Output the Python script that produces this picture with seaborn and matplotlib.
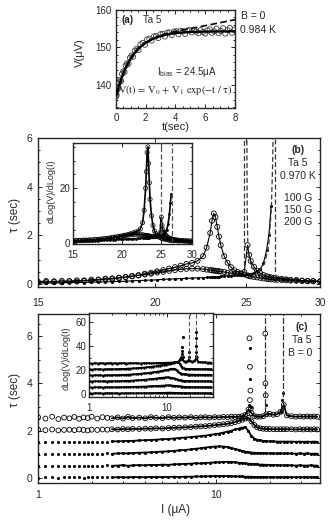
import numpy as np
import pandas as pd
import matplotlib
matplotlib.use("Agg")
import matplotlib.pyplot as plt
from matplotlib.ticker import FixedLocator, NullLocator, AutoMinorLocator, FormatStrFormatter, LogLocator, NullFormatter
import seaborn as sns

sns.set_style("ticks")
plt.rcParams["font.family"] = ["Liberation Sans", "DejaVu Sans"]
plt.rcParams["mathtext.fontset"] = "stix"

# ---------------- panel (a): V(t) relaxation ----------------
t_a = [0.00, 0.02, 0.05, 0.08, 0.12, 0.16, 0.22, 0.28, 0.35, 0.42, 0.50, 0.58, 0.66, 0.75, 0.85, 0.95,
       1.05, 1.15, 1.27, 1.40, 1.52, 1.65, 1.80, 1.95, 2.10, 2.25, 2.40, 2.55, 2.70, 2.85, 3.00, 3.15,
       3.30, 3.45, 3.60, 3.75, 3.90, 4.05, 4.20, 4.35, 4.50, 4.65, 4.80, 4.95, 5.10, 5.25, 5.40, 5.55,
       5.70, 5.85, 6.00, 6.15, 6.30, 6.45, 6.60, 6.75, 6.90, 7.05, 7.20, 7.35, 7.50, 7.65, 7.80, 7.95]
V_a = [136.8, 137.6, 137.2, 138.6, 139.4, 139.0, 140.6, 141.2, 141.0, 142.9, 143.6, 143.4, 145.1, 145.7, 145.6, 147.2,
       147.8, 147.5, 149.1, 149.6, 149.3, 150.8, 151.2, 150.7, 152.1, 152.3, 151.8, 152.9, 153.0, 152.5, 153.5, 153.6,
       152.9, 153.9, 154.0, 153.3, 154.2, 154.3, 153.5, 154.4, 154.3, 153.6, 154.5, 154.6, 154.0, 154.7, 154.2, 153.8,
       154.6, 154.1, 153.7, 154.5, 154.8, 153.9, 154.3, 155.0, 153.8, 154.4, 155.1, 153.7, 154.6, 155.2, 153.9, 154.7]
t_fit = [0, 0.25, 0.5, 0.75, 1.0, 1.25, 1.5, 1.75, 2.0, 2.5, 3.0, 3.5, 4.0, 4.5, 5.0, 6.0, 7.0, 8.0]
V_fit = [137.0, 140.3, 143.1, 145.3, 147.05, 148.45, 149.6, 150.5, 151.2, 152.3, 153.0, 153.5, 153.8, 154.0, 154.1, 154.2, 154.25, 154.3]
t_fit2 = [0, 0.5, 1.0, 1.5, 2.0, 2.5, 3.0, 3.6, 4.0, 5.0, 6.0, 7.0, 8.0]
V_fit2 = [137.0, 143.1, 147.05, 149.6, 151.2, 152.4, 153.2, 153.9, 154.3, 155.0, 155.8, 156.6, 157.4]

# ---------------- panel (b): tau vs I, B = 100/150/200 G ----------------
I_b = [15.0, 15.3, 15.6, 15.9, 16.2, 16.5, 16.8, 17.1, 17.4, 17.7, 18.0, 18.3, 18.6, 18.9, 19.2, 19.5,
       19.8, 20.1, 20.4, 20.7, 21.0, 21.3, 21.6, 21.9, 22.2, 22.5, 22.7, 22.9, 23.0, 23.1, 23.2, 23.3,
       23.4, 23.5, 23.7, 23.9, 24.1, 24.3, 24.5, 24.7, 24.9, 25.1, 25.2, 25.3, 25.5, 25.7, 25.9, 26.1,
       26.3, 26.45, 26.6, 26.8, 27.0, 27.3, 27.6, 27.9, 28.3, 28.7, 29.1, 29.5, 30.0]
tau_b1 = [0.10, 0.13, 0.09, 0.14, 0.12, 0.16, 0.13, 0.19, 0.17, 0.23, 0.21, 0.27, 0.29, 0.34, 0.37, 0.43,
          0.47, 0.53, 0.58, 0.64, 0.70, 0.76, 0.83, 0.87, 0.96, 1.15, 1.5, 2.1, 2.6, 2.9, 2.75, 2.35,
          1.95, 1.6, 1.15, 0.88, 0.70, 0.57, 0.50, 0.44, 0.40, 0.36, 0.34, 0.32, 0.30, 0.28, 0.26, 0.24,
          0.22, 0.21, 0.20, 0.19, 0.18, 0.17, 0.16, 0.15, 0.14, 0.13, 0.12, 0.12, 0.11]
tau_b2 = [0.07, 0.09, 0.12, 0.08, 0.13, 0.11, 0.16, 0.14, 0.19, 0.20, 0.24, 0.25, 0.30, 0.32, 0.36, 0.40,
          0.43, 0.48, 0.51, 0.55, 0.58, 0.61, 0.63, 0.64, 0.64, 0.62, 0.60, 0.58, 0.57, 0.56, 0.55, 0.54,
          0.53, 0.52, 0.50, 0.47, 0.45, 0.43, 0.42, 0.43, 0.50, 1.6, 1.2, 0.95, 0.72, 0.55, 0.45, 0.38,
          0.33, 0.30, 0.28, 0.26, 0.24, 0.22, 0.20, 0.18, 0.17, 0.15, 0.14, 0.13, 0.12]
tau_b3 = [0.05, 0.06, 0.04, 0.07, 0.06, 0.08, 0.07, 0.09, 0.08, 0.10, 0.10, 0.12, 0.12, 0.14, 0.15, 0.16,
          0.17, 0.18, 0.20, 0.21, 0.22, 0.23, 0.24, 0.25, 0.26, 0.27, 0.28, 0.29, 0.29, 0.30, 0.30, 0.31,
          0.31, 0.32, 0.33, 0.34, 0.35, 0.36, 0.37, 0.38, 0.39, 0.40, 0.41, 0.43, 0.47, 0.55, 0.62, 0.85,
          1.4, 2.0, 3.2, np.nan, 0.26, 0.23, 0.20, 0.18, 0.16, 0.14, 0.13, 0.12, 0.11]
# fitted divergences (dashed)
fit_b_I = [[24.90, 24.90], [25.06, 25.08, 25.12, 25.2, 25.35, 25.6, 26.0],
           [25.8, 26.2, 26.45, 26.62, 26.70, 26.73], [26.86, 26.86]]
fit_b_tau = [[0.45, 6.2], [6.2, 3.0, 1.6, 1.1, 0.75, 0.5, 0.35],
             [0.5, 0.9, 1.6, 3.2, 5.0, 6.2], [0.2, 6.2]]

# inset (b): dLog(V)/dLog(I)
d_b1 = [1.0, 1.1, 1.0, 1.2, 1.1, 1.3, 1.2, 1.4, 1.4, 1.6, 1.6, 1.8, 1.9, 2.1, 2.2, 2.4,
        2.6, 2.8, 3.0, 3.2, 3.5, 3.8, 4.1, 4.4, 5.2, 7.5, 12, 20, 26, 33, 35, 29,
        22, 16, 10, 6.5, 4.5, 3.5, 2.8, 2.4, 2.1, 1.9, 1.8, 1.7, 1.6, 1.5, 1.4, 1.3,
        1.2, 1.2, 1.1, 1.1, 1.0, 1.0, 0.9, 0.9, 0.9, 0.8, 0.8, 0.8, 0.8]
d_b2 = [0.9, 1.0, 1.1, 1.0, 1.2, 1.1, 1.3, 1.3, 1.5, 1.5, 1.7, 1.8, 2.0, 2.1, 2.3, 2.4,
        2.6, 2.7, 2.9, 3.0, 3.1, 3.2, 3.3, 3.3, 3.2, 3.1, 3.0, 2.9, 2.8, 2.8, 2.7, 2.7,
        2.6, 2.6, 2.5, 2.4, 2.4, 2.5, 2.7, 3.0, 3.8, 9.5, 6.5, 5.0, 4.0, 3.2, 2.6, 2.2,
        1.9, 1.7, 1.6, 1.5, 1.4, 1.3, 1.2, 1.1, 1.0, 1.0, 0.9, 0.9, 0.9]
d_b3 = [0.7, 0.8, 0.7, 0.8, 0.8, 0.9, 0.9, 1.0, 1.0, 1.1, 1.1, 1.2, 1.2, 1.3, 1.3, 1.4,
        1.4, 1.5, 1.5, 1.6, 1.6, 1.7, 1.7, 1.8, 1.8, 1.9, 1.9, 2.0, 2.0, 2.0, 2.1, 2.1,
        2.1, 2.2, 2.2, 2.3, 2.3, 2.4, 2.5, 2.6, 2.7, 2.9, 3.0, 3.2, 3.6, 4.2, 5.0, 7.0,
        10.5, 14.5, 18, np.nan, 1.6, 1.4, 1.3, 1.2, 1.1, 1.0, 1.0, 0.9, 0.9]
fit_bi_I = [[25.03, 25.03], [26.72, 26.72]]
fit_bi_d = [[3.5, 40], [0.0, 40]]

# ---------------- panel (c): tau vs I, B = 0, curves offset ----------------
I_c = [1.0, 1.1, 1.2, 1.3, 1.4, 1.5, 1.6, 1.7, 1.8, 1.9, 2.0,
       2.15, 2.3, 2.45, 2.6,
       2.8, 3.0, 3.2, 3.4,
       3.7, 4.0, 4.3, 4.6,
       5.0, 5.4, 5.8, 6.2,
       6.7, 7.2, 7.7, 8.2, 8.7, 9.2,
       9.8, 10.4, 11.0, 11.6, 12.2, 12.8, 13.4, 14.0, 14.6, 15.2, 15.8, 16.4, 17.0,
       17.7, 18.4, 19.2, 20.0,
       21.0, 22.0, 23.0, 24.0, 25.0,
       26.5, 28.0, 29.5, 31.0, 32.5, 34.0, 35.5, 37.0]
tau_c0 = [0.03, 0.05, 0.04, 0.03, 0.05, 0.04, 0.04, 0.06, 0.03, 0.05, 0.04,
          0.05, 0.04, 0.06, 0.04,
          0.05, 0.05, 0.04, 0.06,
          0.05, 0.05, 0.06, 0.05,
          0.06, 0.06, 0.07, 0.06,
          0.07, 0.07, 0.08, 0.08, 0.09, 0.09,
          0.10, 0.10, 0.10, 0.10, 0.09, 0.09, 0.08, 0.08, 0.07, 0.07, 0.07, 0.06, 0.06,
          0.06, 0.06, 0.05, 0.05,
          0.05, 0.05, 0.05, 0.05, 0.05,
          0.05, 0.05, 0.05, 0.05, 0.05, 0.05, 0.05, 0.05]
tau_c1 = [0.53, 0.52, 0.54, 0.52, 0.53, 0.51, 0.53, 0.54, 0.52, 0.53, 0.52,
          0.54, 0.53, 0.55, 0.53,
          0.54, 0.56, 0.53, 0.55,
          0.56, 0.55, 0.57, 0.56,
          0.58, 0.57, 0.59, 0.60,
          0.61, 0.62, 0.64, 0.63, 0.65, 0.66,
          0.67, 0.68, 0.69, 0.70, 0.69, 0.68, 0.66, 0.65, 0.63, 0.62, 0.61, 0.60, 0.59,
          0.58, 0.58, 0.57, 0.57,
          0.56, 0.56, 0.55, 0.55, 0.55,
          0.55, 0.54, 0.55, 0.54, 0.54, 0.55, 0.54, 0.54]
tau_c2 = [1.03, 1.02, 1.04, 1.02, 1.03, 1.02, 1.04, 1.03, 1.02, 1.04, 1.03,
          1.04, 1.03, 1.05, 1.04,
          1.05, 1.06, 1.05, 1.07,
          1.08, 1.09, 1.10, 1.11,
          1.13, 1.14, 1.16, 1.18,
          1.20, 1.22, 1.25, 1.27, 1.30, 1.32,
          1.34, 1.35, 1.34, 1.32, 1.28, 1.24, 1.20, 1.16, 1.13, 1.11, 1.09, 1.08, 1.07,
          1.07, 1.06, 1.06, 1.05,
          1.05, 1.05, 1.05, 1.05, 1.05,
          1.05, 1.04, 1.05, 1.04, 1.05, 1.04, 1.04, 1.04]
tau_c3 = [1.53, 1.52, 1.54, 1.52, 1.53, 1.53, 1.54, 1.52, 1.53, 1.54, 1.53,
          1.54, 1.55, 1.54, 1.56,
          1.56, 1.57, 1.58, 1.58,
          1.60, 1.61, 1.62, 1.63,
          1.65, 1.66, 1.68, 1.70,
          1.72, 1.74, 1.76, 1.78, 1.80, 1.83,
          1.86, 1.89, 1.93, 1.97, 2.01, 2.06, 2.10, 2.14, 2.15, 2.00, 1.78, 1.68, 1.63,
          1.60, 1.58, 1.57, 1.56,
          1.56, 1.55, 1.55, 1.55, 1.55,
          1.55, 1.54, 1.55, 1.54, 1.55, 1.54, 1.55, 1.54]
tau_c4 = [2.05, 2.03, 2.06, 2.02, 2.04, 2.05, 2.03, 2.06, 2.04, 2.02, 2.05,
          2.04, 2.06, 2.05, 2.07,
          2.06, 2.08, 2.07, 2.09,
          2.08, 2.10, 2.09, 2.11,
          2.10, 2.12, 2.13, 2.14,
          2.15, 2.16, 2.18, 2.19, 2.20, 2.22,
          2.24, 2.26, 2.28, 2.30, 2.33, 2.37, 2.42, 2.47, 2.52, 2.55, 2.40, 2.25, 2.15,
          2.11, 2.09, 2.08, 2.08,
          2.07, 2.07, 2.07, 2.07, 2.07,
          2.07, 2.06, 2.07, 2.06, 2.07, 2.06, 2.07, 2.06]
tau_c5 = [2.58, 2.52, 2.60, 2.50, 2.56, 2.53, 2.59, 2.51, 2.57, 2.54, 2.60,
          2.52, 2.58, 2.55, 2.53,
          2.57, 2.52, 2.59, 2.54,
          2.56, 2.53, 2.58, 2.55,
          2.54, 2.58, 2.55, 2.57,
          2.56, 2.58, 2.55, 2.57, 2.58, 2.56,
          2.58, 2.57, 2.59, 2.58, 2.60, 2.59, 2.60, 2.62, 2.68, 2.90, 2.75, 2.62, 2.60,
          2.60, 2.62, 2.70, 2.72,
          2.68, 2.70, 2.80, 3.10, 2.65,
          2.62, 2.60, 2.61, 2.60, 2.61, 2.60, 2.61, 2.60]
peak_c_open_I = [15.4, 15.5, 15.6, 15.5, 15.7, 18.9, 18.95, 19.0]
peak_c_open_tau = [5.9, 4.7, 3.7, 3.3, 2.95, 6.1, 4.0, 3.5]
peak_c_dot_I = [15.5, 15.6, 15.4, 15.8, 19.1, 23.2, 23.4, 23.6, 23.7]
peak_c_dot_tau = [5.5, 4.2, 3.1, 3.0, 3.1, 2.8, 3.0, 3.3, 3.6]
fit_c_I = [[18.9, 18.9], [23.8, 23.8]]
fit_c_tau = [[2.75, 7.2], [2.75, 7.2]]

# inset (c)
d_c0 = [0.6, 0.4, 0.7, 0.5, 0.6, 0.4, 0.5, 0.7, 0.5, 0.6, 0.5,
        0.5, 0.6, 0.4, 0.6,
        0.5, 0.6, 0.5, 0.7,
        0.6, 0.5, 0.7, 0.6,
        0.6, 0.7, 0.6, 0.7,
        0.7, 0.8, 0.8, 0.9, 0.9, 1.0,
        1.0, 1.1, 1.1, 1.0, 1.0, 0.9, 0.9, 0.8, 0.8, 0.7, 0.7, 0.7, 0.6,
        0.6, 0.6, 0.6, 0.6,
        0.6, 0.6, 0.6, 0.6, 0.6,
        0.6, 0.5, 0.6, 0.5, 0.6, 0.5, 0.6, 0.5]
d_c1 = [5.6, 5.4, 5.7, 5.5, 5.6, 5.4, 5.5, 5.7, 5.5, 5.6, 5.5,
        5.6, 5.5, 5.7, 5.6,
        5.7, 5.8, 5.7, 5.9,
        5.9, 6.0, 6.0, 6.1,
        6.2, 6.2, 6.3, 6.4,
        6.5, 6.6, 6.7, 6.8, 6.9, 7.0,
        7.1, 7.1, 7.1, 7.0, 6.9, 6.8, 6.6, 6.5, 6.3, 6.2, 6.1, 6.0, 5.9,
        5.9, 5.8, 5.8, 5.7,
        5.7, 5.7, 5.6, 5.6, 5.6,
        5.6, 5.5, 5.6, 5.5, 5.6, 5.5, 5.6, 5.5]
d_c2 = [10.6, 10.4, 10.7, 10.5, 10.6, 10.5, 10.6, 10.4, 10.6, 10.5, 10.6,
        10.6, 10.7, 10.6, 10.8,
        10.8, 10.9, 11.0, 11.0,
        11.2, 11.3, 11.5, 11.6,
        11.8, 12.0, 12.2, 12.4,
        12.6, 12.8, 13.1, 13.3, 13.5, 13.7,
        13.8, 13.8, 13.7, 13.4, 13.0, 12.6, 12.2, 11.8, 11.5, 11.3, 11.1, 11.0, 10.9,
        10.8, 10.8, 10.7, 10.7,
        10.7, 10.6, 10.6, 10.6, 10.6,
        10.6, 10.5, 10.6, 10.5, 10.6, 10.5, 10.6, 10.5]
d_c3 = [15.6, 15.4, 15.7, 15.5, 15.6, 15.4, 15.6, 15.5, 15.7, 15.5, 15.6,
        15.7, 15.6, 15.8, 15.8,
        15.9, 16.0, 16.1, 16.2,
        16.4, 16.5, 16.7, 16.9,
        17.1, 17.3, 17.6, 17.8,
        18.1, 18.4, 18.7, 19.0, 19.3, 19.6,
        19.9, 20.3, 20.7, 21.0, 21.0, 20.6, 19.6, 18.4, 17.5, 17.0, 16.7, 16.5, 16.4,
        16.3, 16.2, 16.2, 16.1,
        16.1, 16.1, 16.0, 16.0, 16.0,
        16.0, 15.9, 16.0, 15.9, 16.0, 15.9, 16.0, 15.9]
d_c4 = [20.6, 20.4, 20.7, 20.5, 20.6, 20.4, 20.6, 20.5, 20.7, 20.5, 20.6,
        20.7, 20.6, 20.8, 20.8,
        20.9, 21.0, 21.1, 21.2,
        21.3, 21.5, 21.6, 21.8,
        22.0, 22.2, 22.4, 22.6,
        22.9, 23.1, 23.4, 23.6, 23.9, 24.2,
        24.5, 24.9, 25.3, 25.7, 26.1, 26.5, 26.8, 26.6, 25.2, 23.2, 22.0, 21.4, 21.1,
        21.0, 20.9, 20.9, 20.8,
        20.8, 20.8, 20.7, 20.7, 20.7,
        20.7, 20.6, 20.7, 20.6, 20.7, 20.6, 20.7, 20.6]
d_c5 = [25.6, 25.3, 25.8, 25.4, 25.7, 25.5, 25.3, 25.8, 25.5, 25.6, 25.4,
        25.7, 25.4, 25.6, 25.5,
        25.8, 25.4, 25.6, 25.7,
        25.5, 25.8, 25.6, 25.4,
        25.7, 25.5, 25.8, 25.6,
        25.6, 25.8, 25.7, 25.9, 25.8, 26.0,
        26.0, 26.1, 26.1, 26.2, 26.3, 26.4, 26.6, 27.0, 28.5, 30.5, 29.0, 27.2, 26.8,
        27.0, 27.5, 28.5, 27.4,
        27.0, 27.3, 28.2, 30.5, 27.0,
        26.6, 26.4, 26.3, 26.3, 26.2, 26.2, 26.2, 26.2]
dpeak_I = [15.9, 15.7, 15.8, 15.6, 16.0, 15.8, 19.1, 19.3, 23.3, 23.5, 23.6, 23.4, 23.5]
dpeak = [47.8, 39, 36, 33, 31, 29, 31, 35, 52, 47, 40, 35, 32]
fit_ci_I = [[19.1, 19.1], [23.5, 23.5]]
fit_ci_d = [[29, 70], [30, 70]]


def style(ax, fs=7):
    ax.tick_params(which="both", direction="in", top=True, right=True, labelsize=fs, width=0.7, pad=3)
    ax.tick_params(which="major", length=3)
    ax.tick_params(which="minor", length=1.6)
    for s in ax.spines.values():
        s.set_linewidth(1.0)


def open_pts(ax, x, y, s=12, lw=0.6, col="black"):
    sns.scatterplot(x=x, y=y, ax=ax, marker="o", s=s, fc="none", ec=col, linewidth=lw, zorder=3)


def dot_pts(ax, x, y, s=4):
    sns.scatterplot(x=x, y=y, ax=ax, marker="o", s=s, color="black", linewidth=0, zorder=3)


fig = plt.figure(figsize=(3.31, 5.24), dpi=100)

# ---- (a)
ax_a = fig.add_axes([0.350, 0.794, 0.360, 0.187])
open_pts(ax_a, t_a, V_a, s=14, lw=0.6, col="#3a3a3a")
sns.lineplot(x=t_fit, y=V_fit, ax=ax_a, color="black", lw=1.6, zorder=4)
sns.lineplot(x=t_fit2, y=V_fit2, ax=ax_a, color="black", lw=1.2, ls=(0, (4, 2)), zorder=4)
ax_a.set_xlim(0, 8)
ax_a.set_ylim(133.8, 160)
ax_a.xaxis.set_major_locator(FixedLocator([0, 2, 4, 6, 8]))
ax_a.xaxis.set_minor_locator(AutoMinorLocator(4))
ax_a.yaxis.set_major_locator(FixedLocator([140, 150, 160]))
ax_a.yaxis.set_minor_locator(AutoMinorLocator(5))
style(ax_a, 7)
ax_a.tick_params(axis="x", pad=4)
ax_a.set_xlabel("")
ax_a.set_ylabel("")
ax_a.text(0.05, 0.9, "(a)", transform=ax_a.transAxes, fontsize=7, fontweight="bold", va="center")
ax_a.text(0.225, 0.9, "Ta 5", transform=ax_a.transAxes, fontsize=7, va="center")
ax_a.text(0.6, 0.37, r"$\mathregular{I_{bias}}$ = 24.5μA", transform=ax_a.transAxes, fontsize=7, ha="center", va="center")
ax_a.text(0.5, 0.185, r"V(t) = V$_0$ + V$_1$ exp(−t / τ)", transform=ax_a.transAxes, fontsize=7.5,
          ha="center", va="center", family="STIXGeneral")
fig.text(241 / 331, 1 - 16 / 524, "B = 0", fontsize=7.5, va="center")
fig.text(240 / 331, 1 - 30 / 524, "0.984 K", fontsize=7.5, va="center")
fig.text(80 / 331, 1 - 53 / 524, "V(μV)", fontsize=8, rotation=90, ha="center", va="center")
fig.text(176 / 331, 1 - 127 / 524, "t(sec)", fontsize=8, ha="center", va="center")

# ---- (b)
ax_b = fig.add_axes([0.115, 0.452, 0.852, 0.285])
ax_b.set_xscale("log")
for yy in (tau_b1, tau_b2, tau_b3):
    ax_b.plot(I_b, yy, color="black", lw=0.8, zorder=2)
open_pts(ax_b, I_b, tau_b1, s=13, lw=0.6)
open_pts(ax_b, I_b, tau_b2, s=13, lw=0.6)
dot_pts(ax_b, I_b, tau_b3, s=5)
for xs, ys in zip(fit_b_I, fit_b_tau):
    ax_b.plot(xs, ys, color="#333333", lw=0.9, ls=(0, (4, 2)), zorder=4)
ax_b.set_xlim(15, 30)
ax_b.set_ylim(-0.12, 6.0)
ax_b.xaxis.set_major_locator(FixedLocator([15, 20, 25, 30]))
ax_b.xaxis.set_major_formatter(FormatStrFormatter("%d"))
ax_b.xaxis.set_minor_locator(NullLocator())
ax_b.yaxis.set_major_locator(FixedLocator([0, 2, 4, 6]))
ax_b.yaxis.set_minor_locator(AutoMinorLocator(4))
style(ax_b, 7.5)
ax_b.tick_params(axis="x", pad=8)
ax_b.tick_params(axis="y", pad=4)
ax_b.set_xlabel("")
ax_b.set_ylabel("")
for txt, yp, bold in [("(b)", 150, True), ("Ta 5", 163, False), ("0.970 K", 176, False),
                      ("100 G", 198, False), ("150 G", 210, False), ("200 G", 222, False)]:
    fig.text(298 / 331, 1 - yp / 524, txt, fontsize=7.5, ha="center", va="center",
             fontweight="bold" if bold else "normal")
fig.text(15 / 331, 1 - 215 / 524, "τ (sec)", fontsize=8.5, rotation=90, ha="center", va="center")

# inset (b)
ax_bi = fig.add_axes([0.2205, 0.534, 0.3595, 0.193])
ax_bi.set_xscale("log")
for yy in (d_b1, d_b2, d_b3):
    ax_bi.plot(I_b, yy, color="black", lw=1.2, zorder=2)
open_pts(ax_bi, I_b, d_b1, s=9, lw=0.5)
open_pts(ax_bi, I_b, d_b2, s=9, lw=0.5)
dot_pts(ax_bi, I_b, d_b3, s=4)
for xs, ys in zip(fit_bi_I, fit_bi_d):
    ax_bi.plot(xs, ys, color="#555555", lw=0.9, ls=(0, (4, 2)), zorder=4)
ax_bi.set_xlim(15, 30)
ax_bi.set_ylim(-0.3, 36.4)
ax_bi.xaxis.set_major_locator(FixedLocator([15, 20, 25, 30]))
ax_bi.xaxis.set_major_formatter(FormatStrFormatter("%d"))
ax_bi.xaxis.set_minor_locator(NullLocator())
ax_bi.yaxis.set_major_locator(FixedLocator([0, 20]))
ax_bi.yaxis.set_minor_locator(AutoMinorLocator(4))
style(ax_bi, 7)
ax_bi.tick_params(axis="y", pad=2)
ax_bi.tick_params(axis="x", pad=4)
ax_bi.set_xlabel("")
ax_bi.set_ylabel("")
fig.text(51 / 331, 1 - 191 / 524, "dLog(V)/dLog(I)", fontsize=6.5, rotation=90, ha="center", va="center")

# ---- (c)
ax_c = fig.add_axes([0.115, 0.078, 0.852, 0.323])
ax_c.set_xscale("log")
rows_c = [tau_c0, tau_c1, tau_c2, tau_c3, tau_c4, tau_c5]
I_arr = np.array(I_c)
hi = I_arr >= 2.6
for k, yy in enumerate(rows_c):
    yy = np.array(yy)
    ax_c.plot(I_arr[hi], yy[hi], color="black", lw=1.3, zorder=2)
    if k >= 4:
        open_pts(ax_c, I_c, yy, s=12, lw=0.6)
    else:
        dot_pts(ax_c, I_c, yy, s=5)
open_pts(ax_c, peak_c_open_I, peak_c_open_tau, s=12, lw=0.6)
dot_pts(ax_c, peak_c_dot_I, peak_c_dot_tau, s=5)
for xs, ys in zip(fit_c_I, fit_c_tau):
    ax_c.plot(xs, ys, color="#333333", lw=0.9, ls=(0, (5, 1.5)), zorder=4)
ax_c.set_xlim(1, 38.4)
ax_c.set_ylim(-0.2, 6.93)
ax_c.xaxis.set_major_locator(LogLocator(base=10))
ax_c.xaxis.set_major_formatter(FormatStrFormatter("%d"))
ax_c.xaxis.set_minor_locator(LogLocator(base=10, subs=np.arange(2, 10)))
ax_c.xaxis.set_minor_formatter(NullFormatter())
ax_c.yaxis.set_major_locator(FixedLocator([0, 2, 4, 6]))
ax_c.yaxis.set_minor_locator(AutoMinorLocator(4))
style(ax_c, 7.5)
ax_c.tick_params(axis="x", pad=5)
ax_c.tick_params(axis="y", pad=4)
ax_c.set_xlabel("")
ax_c.set_ylabel("")
fig.text(302 / 331, 1 - 327 / 524, "(c)", fontsize=7.5, ha="center", va="center", fontweight="bold")
fig.text(302 / 331, 1 - 340 / 524, "Ta 5", fontsize=7.5, ha="center", va="center")
fig.text(300 / 331, 1 - 353 / 524, "B = 0", fontsize=7.5, ha="center", va="center")
fig.text(15 / 331, 1 - 390 / 524, "τ (sec)", fontsize=8.5, rotation=90, ha="center", va="center")
fig.text(176 / 331, 1 - 510 / 524, "I (μA)", fontsize=8.5, ha="center", va="center")

# inset (c)
ax_ci = fig.add_axes([0.269, 0.2424, 0.3746, 0.1603])
ax_ci.set_xscale("log")
for yy in (d_c0, d_c1, d_c2, d_c3, d_c4, d_c5):
    ax_ci.plot(I_c, yy, color="black", lw=1.3, zorder=2)
    dot_pts(ax_ci, I_c, yy, s=3)
dot_pts(ax_ci, dpeak_I, dpeak, s=5)
for xs, ys in zip(fit_ci_I, fit_ci_d):
    ax_ci.plot(xs, ys, color="#555555", lw=0.8, ls=(0, (4, 2)), zorder=4)
ax_ci.set_xlim(1, 39)
ax_ci.set_ylim(-2.5, 67.5)
ax_ci.xaxis.set_major_locator(LogLocator(base=10))
ax_ci.xaxis.set_major_formatter(FormatStrFormatter("%d"))
ax_ci.xaxis.set_minor_locator(LogLocator(base=10, subs=np.arange(2, 10)))
ax_ci.xaxis.set_minor_formatter(NullFormatter())
ax_ci.yaxis.set_major_locator(FixedLocator([0, 20, 40, 60]))
ax_ci.yaxis.set_minor_locator(AutoMinorLocator(2))
style(ax_ci, 7)
ax_ci.tick_params(axis="y", pad=2)
ax_ci.tick_params(axis="x", pad=4)
ax_ci.set_xlabel("")
ax_ci.set_ylabel("")
fig.text(66 / 331, 1 - 358 / 524, "dLog(V)/dLog(I)", fontsize=6.5, rotation=90, ha="center", va="center")

fig.savefig("out.png", dpi=100)
